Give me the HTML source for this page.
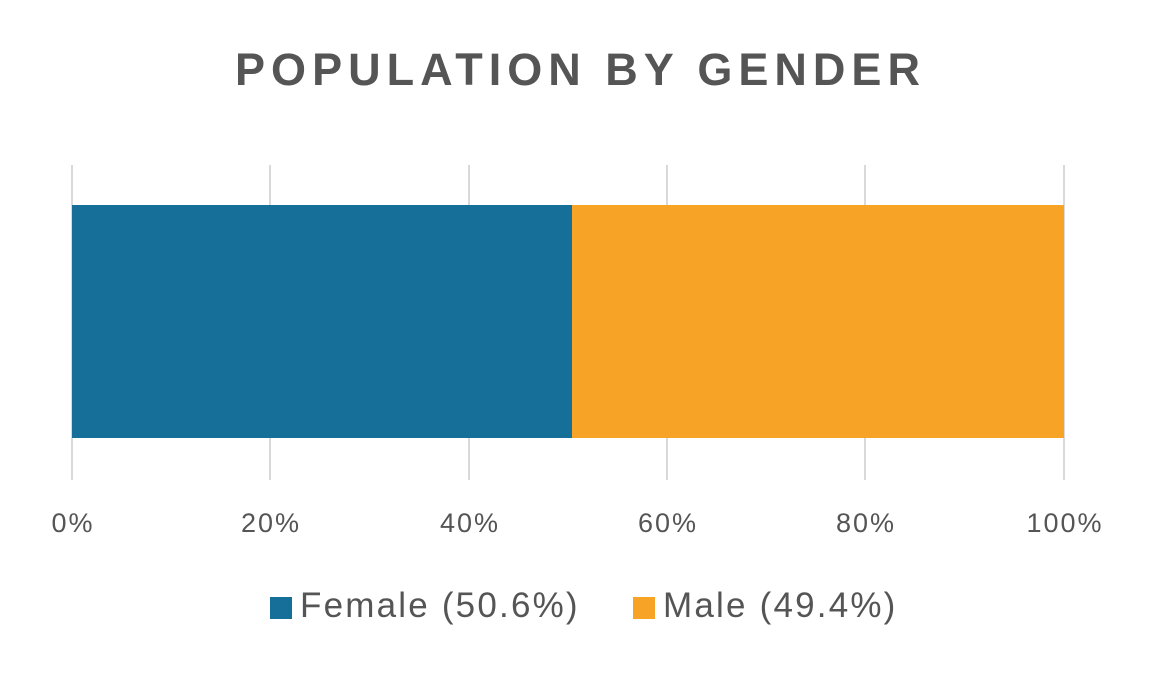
<!DOCTYPE html>
<html><head><meta charset="utf-8"><style>
html,body{margin:0;padding:0;background:#fff;}
body{width:1155px;height:682px;position:relative;overflow:hidden;font-family:"Liberation Sans",sans-serif;color:#555;}
.t{position:absolute;left:0;width:1155px;top:44px;text-align:center;font-weight:bold;font-size:45px;letter-spacing:6px;color:#555;text-indent:6px;}
.g{position:absolute;top:165px;height:315px;width:2px;background:#d9d9d9;}
.lab{position:absolute;top:508px;font-size:27px;letter-spacing:2px;width:140px;text-align:center;color:#555;}
.sq{position:absolute;top:597px;width:22px;height:22px;}
.lt{position:absolute;top:586px;font-size:35px;letter-spacing:2.2px;color:#555;}
</style></head><body>
<div class="t">POPULATION BY GENDER</div>
<div class="g" style="left:71px"></div>
<div class="g" style="left:269px"></div>
<div class="g" style="left:468px"></div>
<div class="g" style="left:666px"></div>
<div class="g" style="left:864px"></div>
<div class="g" style="left:1063px"></div>
<div style="position:absolute;left:72px;top:205px;width:500px;height:233px;background:#156F99"></div>
<div style="position:absolute;left:572px;top:205px;width:492px;height:233px;background:#F7A325"></div>
<div class="lab" style="left:3px">0%</div>
<div class="lab" style="left:201px">20%</div>
<div class="lab" style="left:400px">40%</div>
<div class="lab" style="left:598px">60%</div>
<div class="lab" style="left:796px">80%</div>
<div class="lab" style="left:995px">100%</div>
<div class="sq" style="left:270px;background:#156F99"></div>
<div class="lt" style="left:300px">Female (50.6%)</div>
<div class="sq" style="left:633px;background:#F7A325"></div>
<div class="lt" style="left:663px">Male (49.4%)</div>
</body></html>
